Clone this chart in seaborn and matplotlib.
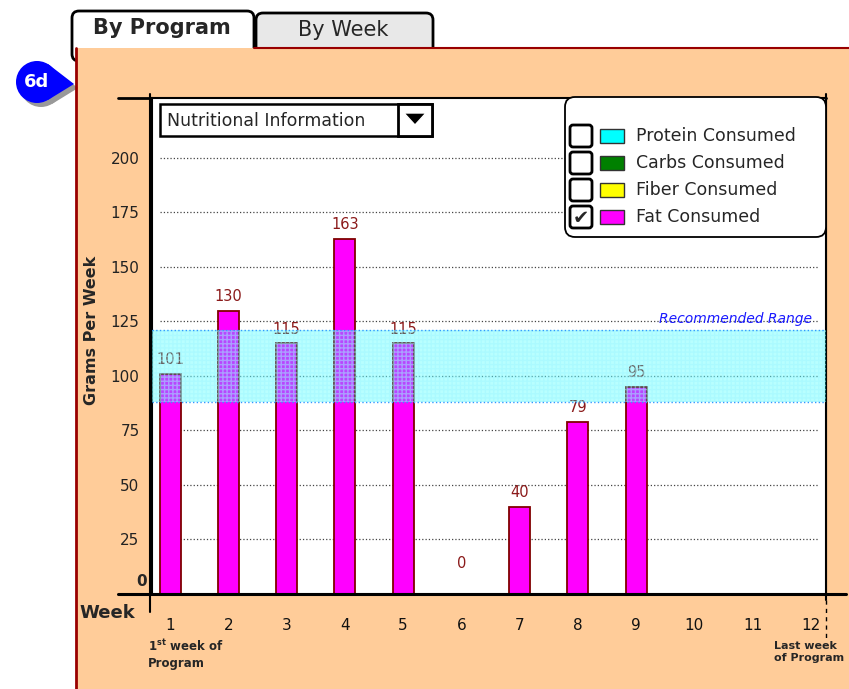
import matplotlib
matplotlib.use("Agg")
import matplotlib.pyplot as plt
import numpy as np
import pandas as pd
import seaborn as sns
from matplotlib.patches import Rectangle, FancyBboxPatch, Circle, Polygon

weeks = [1, 2, 3, 4, 5, 6, 7, 8, 9]
fat_grams = [101, 130, 115, 163, 115, 0, 40, 79, 95]
week_ticks = [1, 2, 3, 4, 5, 6, 7, 8, 9, 10, 11, 12]
gram_ticks = [25, 50, 75, 100, 125, 150, 175, 200]
recommended = (88, 121)
legend_labels = ["Protein Consumed", "Carbs Consumed", "Fiber Consumed", "Fat Consumed"]
legend_colors = ["#00ffff", "#008000", "#ffff00", "#ff00ff"]
legend_checked = [False, False, False, True]

W, H = 849, 689
PEACH = "#ffcc99"
DARKRED = "#8b1a1a"

sns.set_style("white")
plt.rcParams["font.family"] = ["DejaVu Sans"]

fig = plt.figure(figsize=(W / 100, H / 100), dpi=100)
fig.patch.set_facecolor("white")

# background layer in pixel coordinates
bg = fig.add_axes([0, 0, 1, 1], zorder=0)
bg.set_xlim(0, W)
bg.set_ylim(H, 0)
bg.axis("off")

# tabs
bg.add_patch(FancyBboxPatch((72, 11), 182, 50, boxstyle="round,pad=0,rounding_size=7",
                            facecolor="white", edgecolor="black", lw=2))
bg.add_patch(FancyBboxPatch((256, 13), 177, 48, boxstyle="round,pad=0,rounding_size=7",
                            facecolor="#e8e8e8", edgecolor="black", lw=2))
bg.text(162, 28, "By Program", fontsize=15, fontweight="bold", ha="center", va="center")
bg.text(343, 30, "By Week", fontsize=15, ha="center", va="center")

# peach panel
bg.add_patch(Rectangle((76, 48), W - 76, H - 48, facecolor=PEACH, edgecolor="none"))
bg.plot([76, 76], [48, H], color="#990000", lw=2)
bg.plot([254, W], [48, 48], color="#990000", lw=1.5)

# 6d badge
for dx, col in [(4, "#999999"), (0, "#0000ff")]:
    bg.add_patch(Circle((37 + dx, 82 + dx), 21, facecolor=col, edgecolor="none"))
    bg.add_patch(Polygon([(48 + dx, 64 + dx), (74 + dx, 84 + dx), (48 + dx, 100 + dx)],
                         facecolor=col, edgecolor="none"))
bg.text(37, 82, "6d", color="white", fontsize=13, fontweight="bold", ha="center", va="center")

# sketchy frame overshoots
bg.plot([118, 826], [98, 98], color="black", lw=2)
bg.plot([118, 846], [594, 594], color="black", lw=2.2)
bg.plot([150, 150], [94, 612], color="black", lw=1.5)
bg.plot([826, 826], [94, 600], color="black", lw=1.5)
bg.plot([826, 826], [600, 640], color="black", lw=1, ls=(0, (3, 3)))

# axis labels on the peach
bg.text(92, 330, "Grams Per Week", rotation=90, fontsize=11.5, fontweight="bold",
        ha="center", va="center")
bg.text(107, 613, "Week", fontsize=13, fontweight="bold", ha="center", va="center")
bg.text(147, 581, "0", fontsize=11, fontweight="bold", ha="right", va="center")
bg.text(148, 654, "1$^{\\mathbf{st}}$ week of\nProgram", fontsize=8.5, fontweight="bold",
        ha="left", va="center", linespacing=1.3)
bg.text(774, 652, "Last week\nof Program", fontsize=8, fontweight="bold",
        ha="left", va="center", linespacing=1.3)

# main chart
ax = fig.add_axes([152 / W, 1 - 594 / H, (826 - 152) / W, (594 - 98) / H], zorder=1)
ax.set_facecolor("white")
df = pd.DataFrame({"week": weeks, "fat": fat_grams})
sns.barplot(data=df, x="week", y="fat", native_scale=True, width=0.36,
            color="#ff00ff", saturation=1, edgecolor="#800000", linewidth=1.3, ax=ax)
for w, v in zip(weeks, fat_grams):
    ax.annotate(str(v), (w, v), xytext=(0, 10 if v else 22), textcoords="offset points",
                ha="center", va="center", color=DARKRED, fontsize=10.5)

for g in gram_ticks:
    ax.axhline(g, xmin=0.012, xmax=0.988, color="#444444", lw=0.9, ls=":", zorder=0)

ax.axhspan(*recommended, xmin=0, xmax=1, facecolor="#00ffff", alpha=0.28,
           edgecolor="none", zorder=3)
ax.axhspan(*recommended, xmin=0, xmax=1, facecolor="none", hatch="++++",
           edgecolor="#9ff7ff", lw=0, zorder=3, alpha=0.5)
for edge in recommended:
    ax.axhline(edge, color="#3399ff", lw=1, ls=":", zorder=3)
ax.text(12.02, recommended[1] + 2, "Recommended Range", color="#1a1aff", fontsize=10,
        style="italic", ha="right", va="bottom")

ax.set_xlim(0.69, 12.26)
ax.set_ylim(0, 227.5)
ax.set_xticks(week_ticks)
ax.set_xticklabels([str(w) for w in week_ticks])
ax.set_yticks(gram_ticks)
ax.set_yticklabels([str(g) for g in gram_ticks])
ax.tick_params(axis="x", length=0, pad=17, labelsize=11, labelcolor="#111111")
ax.tick_params(axis="y", length=0, pad=9, labelsize=11, labelcolor="#222222")
ax.set_xlabel("")
ax.set_ylabel("")
for s in ax.spines.values():
    s.set_color("black")
    s.set_linewidth(1.5)

# overlay widgets: dropdown and legend
ov = fig.add_axes([0, 0, 1, 1], zorder=5)
ov.set_xlim(0, W)
ov.set_ylim(H, 0)
ov.axis("off")

ov.add_patch(Rectangle((160, 104), 272, 32, facecolor="white", edgecolor="black", lw=1.8))
ov.add_patch(Rectangle((398, 104), 34, 32, facecolor="white", edgecolor="black", lw=2))
ov.add_patch(Polygon([(404, 113), (426, 113), (415, 125)], facecolor="black"))
ov.text(167, 121, "Nutritional Information", fontsize=12.5, ha="left", va="center")

ov.add_patch(FancyBboxPatch((565, 97), 261, 140, boxstyle="round,pad=0,rounding_size=10",
                            facecolor="white", edgecolor="black", lw=1.3))
row_y = [136, 163, 190, 217]
for y, lab, col, chk in zip(row_y, legend_labels, legend_colors, legend_checked):
    ov.add_patch(FancyBboxPatch((570, y - 11), 22, 22, boxstyle="round,pad=0,rounding_size=3",
                                facecolor="white", edgecolor="black", lw=2))
    ov.add_patch(Rectangle((600, y - 7), 24, 14, facecolor=col, edgecolor="#333333", lw=1))
    ov.text(636, y, lab, fontsize=12.5, ha="left", va="center")
    if chk:
        ov.text(581, y + 1, "\u2714", fontsize=14, ha="center", va="center")

fig.savefig("out.png", dpi=100, facecolor="white")
